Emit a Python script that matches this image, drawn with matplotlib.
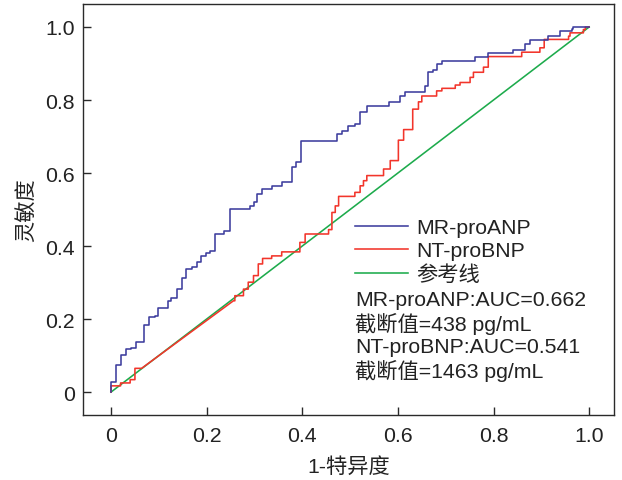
import matplotlib
matplotlib.use("Agg")
import matplotlib.pyplot as plt

plt.rcParams['font.family'] = ['Liberation Sans', 'Noto Sans CJK SC']

# ROC curve points (false positive rate, true positive rate)
mr_fpr = [0, 0, 0.010, 0.010, 0.020, 0.020, 0.031, 0.031, 0.041, 0.041,
          0.052, 0.052, 0.070, 0.070, 0.080, 0.080, 0.091, 0.091, 0.099, 0.099,
          0.120, 0.120, 0.126, 0.126, 0.139, 0.139, 0.148, 0.148, 0.157, 0.157,
          0.169, 0.169, 0.179, 0.179, 0.188, 0.188, 0.199, 0.199, 0.207, 0.207,
          0.218, 0.218, 0.236, 0.236, 0.249, 0.249, 0.291, 0.291, 0.299, 0.299,
          0.306, 0.306, 0.316, 0.316, 0.336, 0.336, 0.357, 0.357, 0.378, 0.378,
          0.386, 0.386, 0.397, 0.397, 0.473, 0.473, 0.483, 0.483, 0.496, 0.496,
          0.510, 0.510, 0.521, 0.521, 0.535, 0.535, 0.582, 0.582, 0.605, 0.605,
          0.615, 0.615, 0.656, 0.656, 0.662, 0.662, 0.674, 0.674, 0.681, 0.681,
          0.692, 0.692, 0.762, 0.762, 0.789, 0.789, 0.840, 0.840, 0.866, 0.866,
          0.877, 0.877, 0.915, 0.915, 0.939, 0.939, 0.964, 0.964, 0.967, 0.967,
          1.0]
mr_tpr = [0, 0.027, 0.027, 0.074, 0.074, 0.101, 0.101, 0.118, 0.118, 0.122,
          0.122, 0.138, 0.138, 0.184, 0.184, 0.205, 0.205, 0.209, 0.209, 0.229,
          0.229, 0.250, 0.250, 0.257, 0.257, 0.282, 0.282, 0.312, 0.312, 0.337,
          0.337, 0.342, 0.342, 0.357, 0.357, 0.373, 0.373, 0.381, 0.381, 0.387,
          0.387, 0.433, 0.433, 0.442, 0.442, 0.501, 0.501, 0.510, 0.510, 0.520,
          0.520, 0.542, 0.542, 0.556, 0.556, 0.565, 0.565, 0.576, 0.576, 0.616,
          0.616, 0.631, 0.631, 0.689, 0.689, 0.707, 0.707, 0.716, 0.716, 0.730,
          0.730, 0.734, 0.734, 0.766, 0.766, 0.784, 0.784, 0.795, 0.795, 0.812,
          0.812, 0.821, 0.821, 0.839, 0.839, 0.878, 0.878, 0.883, 0.883, 0.899,
          0.899, 0.908, 0.908, 0.917, 0.917, 0.928, 0.928, 0.936, 0.936, 0.953,
          0.953, 0.964, 0.964, 0.975, 0.975, 0.989, 0.989, 0.994, 0.994, 1.0,
          1.0]

nt_fpr = [0, 0, 0.020, 0.020, 0.040, 0.040, 0.050, 0.050, 0.064, 0.256,
          0.259, 0.259, 0.277, 0.277, 0.287, 0.287, 0.298, 0.298, 0.308, 0.308,
          0.317, 0.317, 0.336, 0.336, 0.357, 0.357, 0.395, 0.395, 0.406, 0.406,
          0.455, 0.455, 0.462, 0.462, 0.469, 0.469, 0.476, 0.476, 0.510, 0.510,
          0.521, 0.521, 0.528, 0.528, 0.535, 0.535, 0.570, 0.570, 0.584, 0.584,
          0.601, 0.601, 0.612, 0.612, 0.631, 0.631, 0.643, 0.643, 0.650, 0.650,
          0.681, 0.681, 0.692, 0.692, 0.720, 0.720, 0.730, 0.730, 0.751, 0.751,
          0.758, 0.758, 0.779, 0.779, 0.789, 0.789, 0.859, 0.859, 0.897, 0.897,
          0.906, 0.906, 0.957, 0.957, 0.960, 0.960, 0.988, 0.988, 0.992, 0.992,
          1.0]
nt_tpr = [0, 0.017, 0.017, 0.025, 0.025, 0.034, 0.034, 0.065, 0.065, 0.250,
          0.250, 0.264, 0.264, 0.282, 0.282, 0.301, 0.301, 0.319, 0.319, 0.351,
          0.351, 0.366, 0.366, 0.373, 0.373, 0.384, 0.384, 0.410, 0.410, 0.433,
          0.433, 0.445, 0.445, 0.492, 0.492, 0.510, 0.510, 0.536, 0.536, 0.547,
          0.547, 0.565, 0.565, 0.579, 0.579, 0.593, 0.593, 0.611, 0.611, 0.634,
          0.634, 0.690, 0.690, 0.719, 0.719, 0.775, 0.775, 0.795, 0.795, 0.811,
          0.811, 0.825, 0.825, 0.832, 0.832, 0.841, 0.841, 0.848, 0.848, 0.862,
          0.862, 0.876, 0.876, 0.890, 0.890, 0.919, 0.919, 0.931, 0.931, 0.943,
          0.943, 0.966, 0.966, 0.975, 0.975, 0.984, 0.984, 0.993, 0.993, 1.0,
          1.0]

ref_x = [0, 1]
ref_y = [0, 1]

series_labels = ['MR-proANP', 'NT-proBNP', '参考线']
annot_lines = ['MR-proANP:AUC=0.662', '截断值=438 pg/mL',
               'NT-proBNP:AUC=0.541', '截断值=1463 pg/mL']
ticks = [0, 0.2, 0.4, 0.6, 0.8, 1.0]
tick_labels = ['0', '0.2', '0.4', '0.6', '0.8', '1.0']
xlabel = '1-特异度'
ylabel = '灵敏度'

W, H = 622, 481
fig = plt.figure(figsize=(W / 100, H / 100), dpi=100)
ax = fig.add_axes([83 / W, 1 - 415.7 / H, (614 - 83) / W, (415.7 - 5) / H])

blue = '#3d3d9e'
red = '#f2352b'
green = '#1dab4c'
lw = 1.15
ax.plot(mr_fpr, mr_tpr, color=blue, lw=lw, label=series_labels[0], zorder=4)
ax.plot(nt_fpr, nt_tpr, color=red, lw=lw, label=series_labels[1], zorder=3)
ax.plot(ref_x, ref_y, color=green, lw=lw, label=series_labels[2], zorder=2)

ax.set_xlim(-0.0586, 1.052)
ax.set_ylim(-0.062, 1.063)
ax.set_xticks(ticks)
ax.set_xticklabels(tick_labels)
ax.set_yticks(ticks)
ax.set_yticklabels(tick_labels)

fs = 15.3
spine_c = '#2a2a2a'
for s in ax.spines.values():
    s.set_linewidth(1.0)
    s.set_color(spine_c)
ax.tick_params(direction='in', length=5.5, width=1.0, color=spine_c,
               labelsize=fs, labelcolor='#222222')
ax.tick_params(axis='x', pad=8)
ax.tick_params(axis='y', pad=6)

ax.set_xlabel(xlabel, fontsize=fs, color='#222222')
ax.set_ylabel(ylabel, fontsize=fs, color='#222222')
ax.xaxis.set_label_coords(0.5, -0.100)
ax.yaxis.set_label_coords(-0.088, 0.5)

leg = ax.legend(loc='upper left', bbox_to_anchor=(355 / W, 1 - 219 / H),
                bbox_transform=fig.transFigure, frameon=False, fontsize=fs,
                handlelength=2.5, handletextpad=0.38, borderpad=0,
                borderaxespad=0, labelspacing=0.2)
for t in leg.get_texts():
    t.set_color('#222222')

fig.text(355 / W, 1 - 291 / H, '\n'.join(annot_lines), fontsize=fs,
         va='top', ha='left', linespacing=1.17, color='#222222')

fig.savefig('out.png', dpi=100)
